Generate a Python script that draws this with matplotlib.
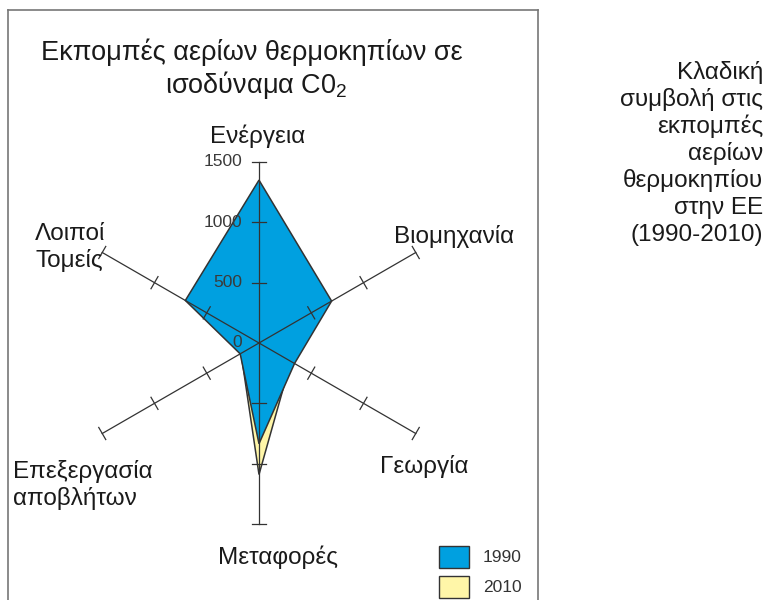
import numpy as np
import matplotlib
matplotlib.use("Agg")
import matplotlib.pyplot as plt
from matplotlib.patches import Rectangle, Polygon
from matplotlib.lines import Line2D

plt.rcParams['font.family'] = ['Liberation Sans', 'DejaVu Sans']
plt.rcParams['mathtext.fontset'] = 'custom'
plt.rcParams['mathtext.rm'] = 'Liberation Sans'
plt.rcParams['mathtext.it'] = 'Liberation Sans'

# ---- data ----
categories = ['Ενέργεια', 'Βιομηχανία', 'Γεωργία', 'Μεταφορές',
              'Επεξεργασία\nαποβλήτων', 'Λοιποί\nΤομείς']
values_1990 = [1350, 695, 340, 835, 180, 705]
values_2010 = [1250, 560, 305, 1090, 172, 600]
tick_values = [0, 500, 1000, 1500]
years = ['1990', '2010']
side_text = ['Κλαδική', 'συμβολή στις', 'εκπομπές', 'αερίων',
             'θερμοκηπίου', 'στην ΕΕ', '(1990-2010)']

col_1990 = '#00a0e0'
col_2010 = '#fff6a8'
edge = '#333333'

W, H = 766, 600
fig = plt.figure(figsize=(W / 100, H / 100), dpi=100)

# axes covering the whole figure, 1 data unit = same px on x and y
cx, cy = 259, 343           # centre of the star in pixels (from top)
px = 181 / 1500             # pixels per unit
ax = fig.add_axes([0, 0, 1, 1])
ax.set_xlim(-cx / px, (W - cx) / px)
ax.set_ylim(-(H - cy) / px, cy / px)
ax.axis('off')

n = len(categories)
theta = np.deg2rad(90 - 60 * np.arange(n))


def xy(vals):
    vals = np.asarray(vals, dtype=float)
    return np.column_stack([vals * np.cos(theta), vals * np.sin(theta)])


# polygons: 2010 behind, 1990 on top
ax.add_patch(Polygon(xy(values_2010), closed=True, facecolor=col_2010,
                     edgecolor=edge, lw=1.1, zorder=2))
ax.add_patch(Polygon(xy(values_1990), closed=True, facecolor=col_1990,
                     edgecolor=edge, lw=1.1, zorder=3))

# spokes with perpendicular tick marks
rmax = tick_values[-1]
half = 7 / px
for t in theta:
    ax.plot([0, rmax * np.cos(t)], [0, rmax * np.sin(t)], color=edge,
            lw=0.9, zorder=4)
    for v in tick_values[1:]:
        x0, y0 = v * np.cos(t), v * np.sin(t)
        dx, dy = -np.sin(t) * half, np.cos(t) * half
        ax.plot([x0 - dx, x0 + dx], [y0 - dy, y0 + dy], color=edge,
                lw=0.9, zorder=4)

# tick labels on the vertical spoke
for v in tick_values:
    ax.text(-17 / px, v, str(v), ha='right', va='center', fontsize=12.5,
            color='#3a3a3a', zorder=5)

# frame of the chart panel
fx0, fx1, fy0 = 8 / W, 538 / W, 1 - 10 / H
for xs, ys in [([fx0, fx0], [fy0, -0.1]), ([fx1, fx1], [fy0, -0.1]),
               ([fx0, fx1], [fy0, fy0])]:
    fig.add_artist(Line2D(xs, ys, color='#777777', lw=1.2))


def ftext(x, y, s, **kw):
    fig.text(x / W, 1 - y / H, s, **kw)


# title
ftext(252, 60, 'Εκπομπές αερίων θερμοκηπίων σε', ha='center',
      va='baseline', fontsize=19.5, color='#1a1a1a')
ftext(256, 93, r'ισοδύναμα C0$_{2}$', ha='center', va='baseline',
      fontsize=19.5, color='#1a1a1a')

# category labels (baseline positions in px)
label_pos = [(258, 143, 'center'), (454, 243, 'center'),
             (424, 473, 'center'), (278, 564, 'center'),
             (13, 478, 'left'), (35, 240, 'left')]
for lab, (x, y, ha) in zip(categories, label_pos):
    lines = lab.split('\n')
    for i, line in enumerate(lines):
        step = 27 if ha == 'left' and i else 0
        ftext(x, y + step * i, line, ha=ha, va='baseline', fontsize=17.5,
              color='#1a1a1a')

# side caption
for i, line in enumerate(side_text):
    ftext(763, 79 + 27 * i, line, ha='right', va='baseline', fontsize=17.5,
          color='#1a1a1a')

# legend
for i, (yr, c) in enumerate(zip(years, [col_1990, col_2010])):
    y0 = 546 + 30 * i
    fig.add_artist(Rectangle((439 / W, 1 - (y0 + 22) / H), 30 / W, 22 / H,
                             transform=fig.transFigure, facecolor=c,
                             edgecolor=edge, lw=1.0))
    ftext(483, y0 + 11, yr, ha='left', va='center', fontsize=12.5,
          color='#333333')

fig.savefig('out.png', dpi=100)
